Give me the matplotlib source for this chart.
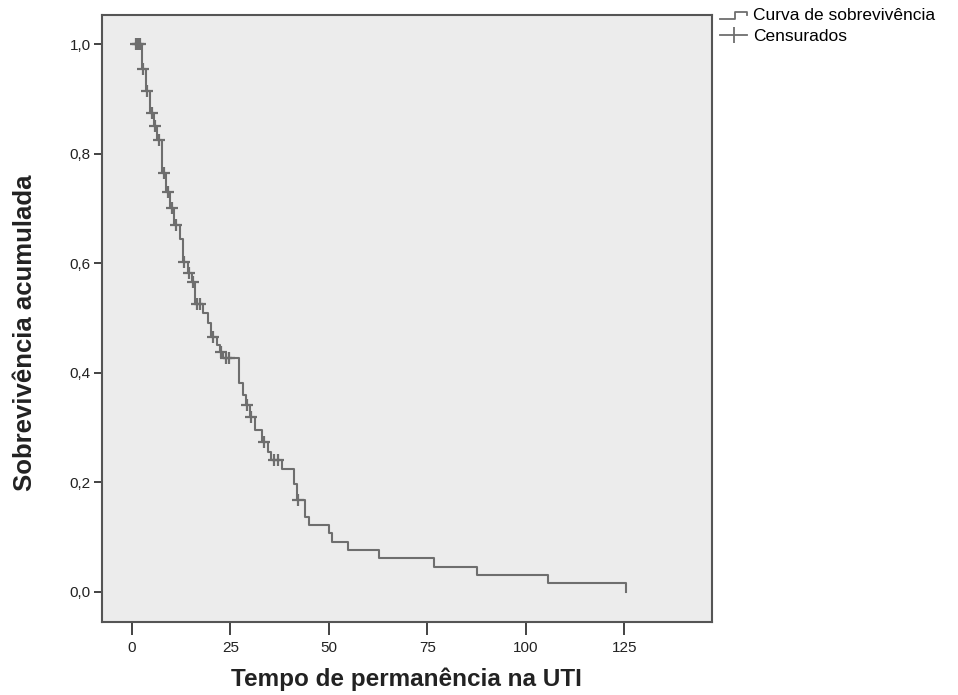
import matplotlib.pyplot as plt
import numpy as np
from matplotlib.lines import Line2D
from matplotlib.legend_handler import HandlerBase

plt.rcParams['font.family'] = ['Liberation Sans', 'DejaVu Sans']

# Kaplan-Meier steps (time, survival after the event)
event_times = [2.5, 3.6, 4.6, 5.6, 6.3, 7.6, 8.6, 9.6, 10.7, 12.2, 12.9, 14.2,
               15.2, 16.0, 18.0, 19.3, 20.0, 21.6, 22.3, 23.1, 27.2, 28.2, 28.9,
               29.9, 31.2, 33.0, 34.5, 35.3, 38.1, 41.1, 41.9, 43.9, 44.9, 50.0,
               50.8, 54.8, 62.7, 76.6, 87.6, 105.6, 125.4]
surv = [0.955, 0.915, 0.875, 0.85, 0.825, 0.765, 0.73, 0.70, 0.67, 0.645, 0.602,
        0.582, 0.566, 0.525, 0.509, 0.491, 0.466, 0.45, 0.438, 0.427, 0.381, 0.36,
        0.341, 0.319, 0.296, 0.274, 0.255, 0.241, 0.224, 0.197, 0.168, 0.137,
        0.122, 0.108, 0.091, 0.077, 0.062, 0.046, 0.031, 0.016, 0.0]
start_time = 0.5

# censored observations
cens_times = [1.0, 1.6, 2.1, 2.9, 3.9, 5.1, 5.9, 6.9, 8.1, 9.1, 10.2, 11.2, 13.3,
              14.6, 15.5, 16.5, 17.3, 20.5, 22.6, 23.9, 24.6, 29.2, 30.3, 33.4,
              36.0, 37.0, 42.2]

line_col = '#6e6e6e'


def surv_at(t):
    s = 1.0
    for et, sv in zip(event_times, surv):
        if et <= t:
            s = sv
    return s


cens_surv = [surv_at(t) for t in cens_times]

xs = [start_time] + event_times
ys = [1.0] + surv

fig = plt.figure(figsize=(9.58, 6.95), dpi=100)
ax = fig.add_axes([0.1065, 0.105, 0.6365, 0.8734])
ax.set_facecolor('#ececec')

ax.step(xs, ys, where='post', color=line_col, lw=1.5)
ax.plot(cens_times, cens_surv, linestyle='none', marker='+', markersize=8,
        markeredgewidth=1.6, color=line_col)

ax.set_xlim(-7.6, 147.2)
ax.set_ylim(-0.055, 1.053)
ax.set_xticks([0, 25, 50, 75, 100, 125])
ax.set_yticks([0.0, 0.2, 0.4, 0.6, 0.8, 1.0])
ax.set_yticklabels(['0,0', '0,2', '0,4', '0,6', '0,8', '1,0'])
ax.tick_params(axis='both', labelsize=11, colors='#222222', width=1.2)
ax.tick_params(axis='x', length=9, pad=5)
ax.tick_params(axis='y', length=6, pad=2)
for sp in ax.spines.values():
    sp.set_color('#555555')
    sp.set_linewidth(1.5)

ax.set_xlabel('Tempo de permanência na UTI', fontsize=17.5, fontweight='bold',
              labelpad=9, color='#222222')
ax.set_ylabel('Sobrevivência acumulada', fontsize=18.5, fontweight='bold',
              color='#222222')
ax.yaxis.set_label_coords(-0.107, 0.476)


class StepHandler(HandlerBase):
    def create_artists(self, legend, orig_handle, xdescent, ydescent,
                       width, height, fontsize, trans):
        x0 = -xdescent
        y0 = -ydescent
        xx = [x0, x0 + width * 0.55, x0 + width * 0.55, x0 + width, x0 + width]
        yy = [y0 + height * 0.1, y0 + height * 0.1, y0 + height * 0.7,
              y0 + height * 0.7, y0 + height * 0.45]
        ln = Line2D(xx, yy, color=line_col, lw=1.3, transform=trans)
        return [ln]


curve_handle = Line2D([0], [0], color=line_col)
cens_handle = Line2D([0], [0], color=line_col, lw=1.3, marker='|',
                     markersize=12, markeredgewidth=1.3)
fig.legend([curve_handle, cens_handle], ['Curva de sobrevivência', 'Censurados'],
           handler_map={curve_handle: StepHandler()},
           loc='upper left', bbox_to_anchor=(0.744, 0.998), frameon=False,
           fontsize=12.5, handlelength=1.6, handletextpad=0.3, labelspacing=0.3,
           borderaxespad=0)

fig.savefig('out.png', dpi=100)
